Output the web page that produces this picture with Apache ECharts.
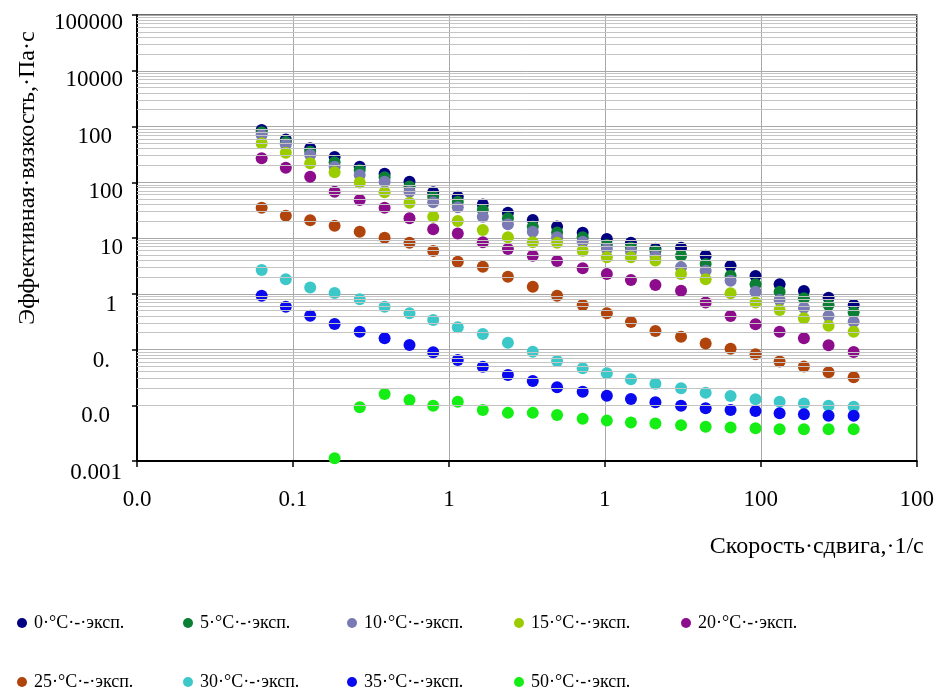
<!DOCTYPE html>
<html>
<head>
<meta charset="utf-8">
<script src="https://cdn.jsdelivr.net/npm/echarts@6/dist/echarts.min.js"></script>
<style>
  html, body { margin: 0; padding: 0; background: #ffffff; }
  #chart { width: 937px; height: 697px; }
</style>
</head>
<body>
<div id="chart"></div>
<script>
// ---------------- data ----------------
const shearRate = [0.063, 0.090, 0.129, 0.185, 0.268, 0.387, 0.559, 0.793, 1.14, 1.65, 2.39, 3.45, 4.94, 7.21, 10.3, 14.7, 21.1, 30.8, 44.3, 64.0, 92.5, 132, 189, 272, 394];

const visc0  = [865, 585, 406, 284, 190, 142, 102, 66, 55, 40, 28.4, 21, 16, 12.4, 9.6, 8.2, 6.4, 6.7, 4.8, 3.15, 2.08, 1.48, 1.12, 0.85, 0.63];
const visc5  = [787, 527, 353, 228, 166, 123, 84, 55, 44.8, 31.8, 22.5, 16, 12.6, 10.3, 7.5, 6.7, 5.85, 4.8, 3.42, 2.11, 1.48, 1.09, 0.83, 0.63, 0.465];
const visc10 = [704, 475, 308, 190, 135, 102, 67.6, 43.7, 35.6, 24.1, 17.6, 13, 10.3, 8.6, 6.35, 5.7, 4.8, 2.98, 2.59, 1.71, 1.09, 0.77, 0.56, 0.40, 0.315];
const visc15 = [500, 339, 219, 151, 99, 66, 43, 24.1, 20.2, 13.9, 10.3, 8.4, 8.2, 5.9, 4.5, 4.5, 3.95, 2.26, 1.82, 1.02, 0.70, 0.51, 0.363, 0.267, 0.209];
const visc20 = [269, 182, 126, 67.6, 48, 34.9, 22.5, 14.3, 12.1, 8.4, 6.35, 4.8, 3.87, 2.86, 2.26, 1.77, 1.44, 1.13, 0.70, 0.40, 0.283, 0.208, 0.159, 0.119, 0.090];
const visc25 = [34.9, 25.1, 20.8, 16.6, 13, 10.1, 8.2, 5.85, 3.76, 3.05, 2.02, 1.34, 0.92, 0.63, 0.446, 0.311, 0.215, 0.170, 0.128, 0.103, 0.082, 0.061, 0.0495, 0.039, 0.0317];
const visc30 = [2.67, 1.82, 1.29, 1.03, 0.795, 0.586, 0.446, 0.338, 0.250, 0.190, 0.132, 0.0914, 0.0622, 0.046, 0.0374, 0.0292, 0.0243, 0.0201, 0.0168, 0.0147, 0.0128, 0.0116, 0.0108, 0.0098, 0.0094];
const visc35 = [0.922, 0.586, 0.404, 0.286, 0.208, 0.159, 0.120, 0.089, 0.0649, 0.0491, 0.0349, 0.0272, 0.0210, 0.0175, 0.0148, 0.0129, 0.0113, 0.0098, 0.0088, 0.0082, 0.0079, 0.0072, 0.0069, 0.0065, 0.0065];
const visc50 = [null, null, null, 0.00112, 0.0092, 0.0159, 0.0124, 0.0098, 0.0116, 0.0082, 0.0073, 0.0073, 0.0067, 0.0057, 0.0053, 0.0049, 0.0047, 0.0044, 0.0041, 0.0040, 0.00386, 0.0037, 0.0037, 0.0037, 0.0037];

const seriesNames = ['0·°C·-·эксп.', '5·°C·-·эксп.', '10·°C·-·эксп.', '15·°C·-·эксп.', '20·°C·-·эксп.',
                     '25·°C·-·эксп.', '30·°C·-·эксп.', '35·°C·-·эксп.', '50·°C·-·эксп.'];
const seriesValues = [visc0, visc5, visc10, visc15, visc20, visc25, visc30, visc35, visc50];

// tick labels as shown in the picture
const xTickValues = [0.01, 0.1, 1, 10, 100, 1000];
const xTickLabels = ['0.0', '0.1', '1', '1', '100', '100'];
const yTickValues = [0.001, 0.01, 0.1, 1, 10, 100, 1000, 10000, 100000];
const yTickLabels = ['0.001', '0.0', '0.', '1', '10', '100', '100', '10000', '100000'];

const xTitle = 'Скорость·сдвига,·1/с';
const yTitle = 'Эффективная·вязкость,·Па·с';

// ---------------- styles ----------------
const colors = ['#000080', '#0b8034', '#7a7ab4', '#9acc00', '#8c0c8c', '#b0440c', '#3cc8c8', '#0a0af0', '#14ee14'];
const FONT = '"Liberation Serif", "Times New Roman", serif';
const AXIS_FS = 23;
const TITLE_FS = 24;
// per-label fine offsets of y labels: [right padding, downward shift]
const yLabelAdjust = [[1, 12], [13, 11], [13, 11], [6, 11], [0, 10], [0, 10], [11, 10], [0, 9], [0, 8]];
const legendPos = [[17, 614], [183, 614], [347, 614], [514, 614], [681, 614],
                   [17, 673], [183, 673], [347, 673], [514, 673]];

// minor log grid values (2..9 per decade)
const minorGrid = [];
for (let d = -3; d <= 4; d++) {
  for (let m = 2; m <= 9; m++) minorGrid.push({ yAxis: m * Math.pow(10, d) });
}

const yRich = {};
yLabelAdjust.forEach((a, i) => {
  yRich['l' + i] = { fontFamily: FONT, fontSize: AXIS_FS, color: '#000', padding: [a[1] * 2, a[0], 0, 0] };
});

function idxOf(values, v) {
  let best = 0, bd = Infinity;
  values.forEach((t, i) => { const d = Math.abs(Math.log10(t) - Math.log10(v)); if (d < bd) { bd = d; best = i; } });
  return best;
}

const series = seriesNames.map((name, si) => ({
  name: name,
  type: 'scatter',
  symbol: 'circle',
  symbolSize: 12,
  itemStyle: { color: colors[si], opacity: 1 },
  data: shearRate.map((x, i) => [x, seriesValues[si][i]]).filter(p => p[1] !== null),
  z: 3
}));

series.unshift({
  name: 'minorGrid',
  type: 'line',
  data: [],
  silent: true,
  z: 1,
  markLine: {
    silent: true,
    symbol: ['none', 'none'],
    label: { show: false },
    lineStyle: { color: '#c4c4c4', width: 1, type: 'solid' },
    emphasis: { disabled: true },
    animation: false,
    data: minorGrid
  }
});

const legends = seriesNames.map((name, i) => ({
  data: [name],
  left: legendPos[i][0],
  top: legendPos[i][1],
  orient: 'horizontal',
  padding: 0,
  icon: 'circle',
  itemWidth: 14,
  itemHeight: 10,
  itemGap: 4,
  selectedMode: false,
  textStyle: { fontFamily: FONT, fontSize: 18, color: '#000' }
}));

const chart = echarts.init(document.getElementById('chart'), null, { renderer: 'canvas' });
chart.setOption({
  animation: false,
  backgroundColor: '#ffffff',
  legend: legends,
  grid: {
    left: 137, top: 15, width: 782, height: 446,
    show: true, borderColor: '#3a3a3a', borderWidth: 1.5, backgroundColor: 'transparent'
  },
  xAxis: {
    type: 'log', logBase: 10, min: 0.01, max: 1000, splitNumber: 5,
    name: xTitle,
    nameLocation: 'end',
    nameGap: 7,
    nameTextStyle: { fontFamily: FONT, fontSize: TITLE_FS, color: '#000', align: 'right', verticalAlign: 'top', padding: [74, 0, 0, 0] },
    axisLine: { show: true, onZero: false, lineStyle: { color: '#000', width: 2 } },
    axisTick: { show: true, inside: false, length: 6, lineStyle: { color: '#000', width: 1.5 } },
    axisLabel: {
      margin: 27, fontFamily: FONT, fontSize: AXIS_FS, color: '#000',
      formatter: v => xTickLabels[idxOf(xTickValues, v)]
    },
    splitLine: { show: true, lineStyle: { color: '#a8a8a8', width: 1 } },
    minorTick: { show: false },
    minorSplitLine: { show: false }
  },
  yAxis: {
    type: 'log', logBase: 10, min: 0.001, max: 100000, splitNumber: 8,
    name: yTitle,
    nameLocation: 'middle',
    nameRotate: 90,
    nameGap: 97,
    nameTextStyle: { fontFamily: FONT, fontSize: TITLE_FS, color: '#000', padding: [0, 0, 0, 120] },
    axisLine: { show: true, onZero: false, lineStyle: { color: '#000', width: 2 } },
    axisTick: { show: true, inside: false, length: 5, lineStyle: { color: '#000', width: 1.5 } },
    axisLabel: {
      margin: 14,
      formatter: v => { const i = idxOf(yTickValues, v); return '{l' + i + '|' + yTickLabels[i] + '}'; },
      rich: yRich
    },
    splitLine: { show: true, lineStyle: { color: '#a8a8a8', width: 1 } },
    minorTick: { show: false },
    minorSplitLine: { show: false }
  },
  series: series
});
</script>
</body>
</html>
